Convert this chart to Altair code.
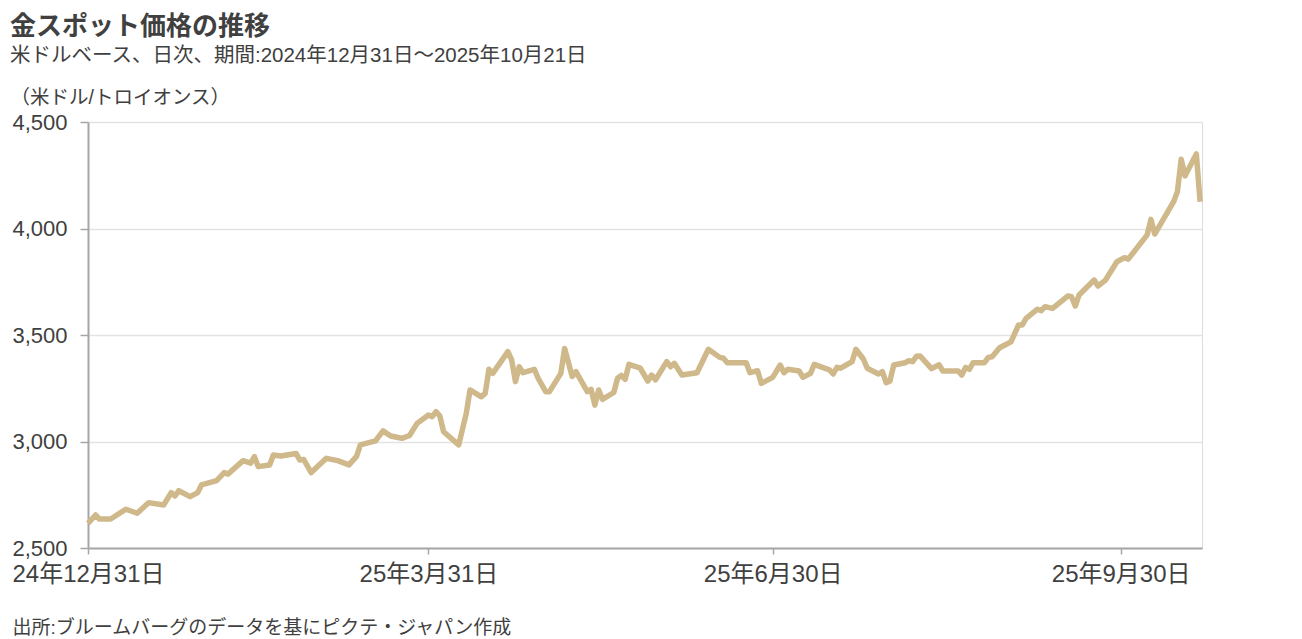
import altair as alt
import pandas as pd

dates = [
    "2024-12-31", "2025-01-02", "2025-01-03", "2025-01-06", "2025-01-10", "2025-01-13",
    "2025-01-16", "2025-01-20", "2025-01-22", "2025-01-23", "2025-01-24", "2025-01-27",
    "2025-01-29", "2025-01-30", "2025-02-03", "2025-02-05", "2025-02-06", "2025-02-10",
    "2025-02-12", "2025-02-13", "2025-02-14", "2025-02-17", "2025-02-18", "2025-02-20",
    "2025-02-24", "2025-02-25", "2025-02-26", "2025-02-28", "2025-03-04", "2025-03-07",
    "2025-03-10", "2025-03-12", "2025-03-13", "2025-03-17", "2025-03-19", "2025-03-21",
    "2025-03-24", "2025-03-26", "2025-03-28", "2025-03-31", "2025-04-01", "2025-04-02",
    "2025-04-03", "2025-04-04", "2025-04-08", "2025-04-10", "2025-04-11", "2025-04-14",
    "2025-04-15", "2025-04-16", "2025-04-17", "2025-04-21", "2025-04-22", "2025-04-23",
    "2025-04-24", "2025-04-25", "2025-04-28", "2025-04-29", "2025-05-01", "2025-05-02",
    "2025-05-05", "2025-05-06", "2025-05-08", "2025-05-09", "2025-05-12", "2025-05-13",
    "2025-05-14", "2025-05-15", "2025-05-16", "2025-05-19", "2025-05-20", "2025-05-21",
    "2025-05-22", "2025-05-23", "2025-05-26", "2025-05-28", "2025-05-29", "2025-05-30",
    "2025-06-02", "2025-06-03", "2025-06-04", "2025-06-06", "2025-06-10", "2025-06-13",
    "2025-06-16", "2025-06-17", "2025-06-18", "2025-06-23", "2025-06-24", "2025-06-26",
    "2025-06-27", "2025-06-30", "2025-07-02", "2025-07-03", "2025-07-04", "2025-07-07",
    "2025-07-08", "2025-07-10", "2025-07-11", "2025-07-15", "2025-07-16", "2025-07-17",
    "2025-07-18", "2025-07-21", "2025-07-22", "2025-07-24", "2025-07-25", "2025-07-28",
    "2025-07-29", "2025-07-30", "2025-07-31", "2025-08-01", "2025-08-04", "2025-08-05",
    "2025-08-06", "2025-08-07", "2025-08-08", "2025-08-11", "2025-08-13", "2025-08-14",
    "2025-08-18", "2025-08-19", "2025-08-20", "2025-08-21", "2025-08-22", "2025-08-25",
    "2025-08-26", "2025-08-27", "2025-08-29", "2025-09-01", "2025-09-02", "2025-09-03",
    "2025-09-04", "2025-09-05", "2025-09-08", "2025-09-09", "2025-09-10", "2025-09-12",
    "2025-09-16", "2025-09-17", "2025-09-18", "2025-09-19", "2025-09-23", "2025-09-24",
    "2025-09-26", "2025-09-29", "2025-10-01", "2025-10-02", "2025-10-07", "2025-10-08",
    "2025-10-09", "2025-10-14", "2025-10-15", "2025-10-16", "2025-10-17", "2025-10-20",
    "2025-10-21",
]

prices = [
    2616, 2655, 2636, 2636, 2682, 2663,
    2713, 2702, 2760, 2744, 2769, 2741,
    2760, 2796, 2816, 2854, 2847, 2910,
    2898, 2929, 2882, 2890, 2937, 2932,
    2944, 2913, 2916, 2854, 2921, 2910,
    2890, 2930, 2984, 3003, 3050, 3026,
    3015, 3028, 3085, 3124, 3117, 3140,
    3120, 3046, 2984, 3132, 3242, 3210,
    3226, 3339, 3320, 3422, 3383, 3281,
    3351, 3323, 3339, 3297, 3234, 3234,
    3320, 3437, 3305, 3328, 3234, 3245,
    3171, 3242, 3198, 3230, 3297, 3310,
    3292, 3362, 3344, 3284, 3312, 3289,
    3375, 3351, 3367, 3312, 3323, 3433,
    3395, 3391, 3370, 3370, 3323, 3332,
    3273, 3301, 3359, 3323, 3339, 3331,
    3301, 3320, 3362, 3336, 3317, 3348,
    3344, 3375, 3433, 3386, 3344, 3317,
    3328, 3276, 3284, 3359, 3370, 3379,
    3375, 3400, 3401, 3342, 3360, 3331,
    3331, 3312, 3348, 3339, 3370, 3370,
    3395, 3398, 3440, 3468, 3508, 3547,
    3547, 3578, 3621, 3614, 3633, 3625,
    3683, 3680, 3636, 3688, 3758, 3730,
    3758, 3844, 3863, 3856, 3970, 4043,
    3974, 4126, 4173, 4325, 4247, 4350,
    4126,
]

x_ticks = ["2024-12-31", "2025-03-31", "2025-06-30", "2025-09-30"]
x_domain = ["2024-12-31T00:00", "2025-10-21T12:00"]
y_ticks = [2500, 3000, 3500, 4000, 4500]
y_domain = [2500, 4500]

title_text = "金スポット価格の推移"
subtitle_text = "米ドルベース、日次、期間:2024年12月31日～2025年10月21日"
unit_text = "（米ドル/トロイオンス）"
source_text = "出所:ブルームバーグのデータを基にピクテ・ジャパン作成"

FONT = "Liberation Sans, Noto Sans CJK JP, sans-serif"
TEXT_COLOR = "#404040"


def to_dt(s):
    d, _, t = s.partition("T")
    y, m, dd = (int(v) for v in d.split("-"))
    kw = dict(year=y, month=m, date=dd)
    if t:
        kw["hours"] = int(t.split(":")[0])
    return alt.DateTime(**kw)


df = pd.DataFrame({"date": pd.to_datetime(dates), "price": prices})

line = alt.Chart(df).mark_line(
    color="#CFB88A", strokeWidth=5.5, strokeJoin="round"
).encode(
    x=alt.X(
        "date:T",
        scale=alt.Scale(domain=[to_dt(s) for s in x_domain]),
        axis=alt.Axis(
            values=[to_dt(s) for s in x_ticks],
            format="%y年%-m月%d日",
            labelFlush=False,
            labelOverlap=False,
            labelBound=False,
            grid=False,
            domainColor="#a6a6a6",
            domainWidth=2,
            tickColor="#a6a6a6",
            tickWidth=1.5,
            tickSize=6,
            labelPadding=8,
            labelFont=FONT,
            labelFontSize=24,
            labelColor=TEXT_COLOR,
            title=source_text,
            titleFont=FONT,
            titleFontSize=19,
            titleFontWeight="normal",
            titleColor=TEXT_COLOR,
            titleAlign="left",
            titleBaseline="middle",
            titleX=-76,
            titleY=79,
        ),
    ),
    y=alt.Y(
        "price:Q",
        scale=alt.Scale(domain=y_domain, nice=False, zero=False),
        axis=alt.Axis(
            values=y_ticks,
            format=",.0f",
            grid=True,
            gridColor="#e3e3e3",
            gridWidth=1.5,
            domainColor="#a6a6a6",
            domainWidth=2,
            tickColor="#a6a6a6",
            tickWidth=1.5,
            tickSize=8,
            labelPadding=13,
            labelFont=FONT,
            labelFontSize=22,
            labelColor=TEXT_COLOR,
            title=unit_text,
            titleFont=FONT,
            titleFontSize=19.5,
            titleFontWeight="normal",
            titleColor=TEXT_COLOR,
            titleAngle=0,
            titleAlign="left",
            titleBaseline="middle",
            titleX=-78,
            titleY=-25,
        ),
    ),
)

chart = line.properties(
    width=1114,
    height=426,
    autosize=alt.AutoSizeParams(type="none"),
    padding={"left": 80, "top": 114, "right": 92, "bottom": 91},
    title=alt.TitleParams(
        text=title_text,
        subtitle=subtitle_text,
        anchor="start",
        frame="group",
        dx=-78,
        offset=21,
        font=FONT,
        fontSize=26,
        fontWeight="bold",
        color=TEXT_COLOR,
        subtitleFont=FONT,
        subtitleFontSize=20.5,
        subtitleColor=TEXT_COLOR,
        subtitlePadding=6,
    ),
).configure_view(stroke=None).configure(background="white")

chart.save("out.html", embed_options={"renderer": "svg", "actions": False})
